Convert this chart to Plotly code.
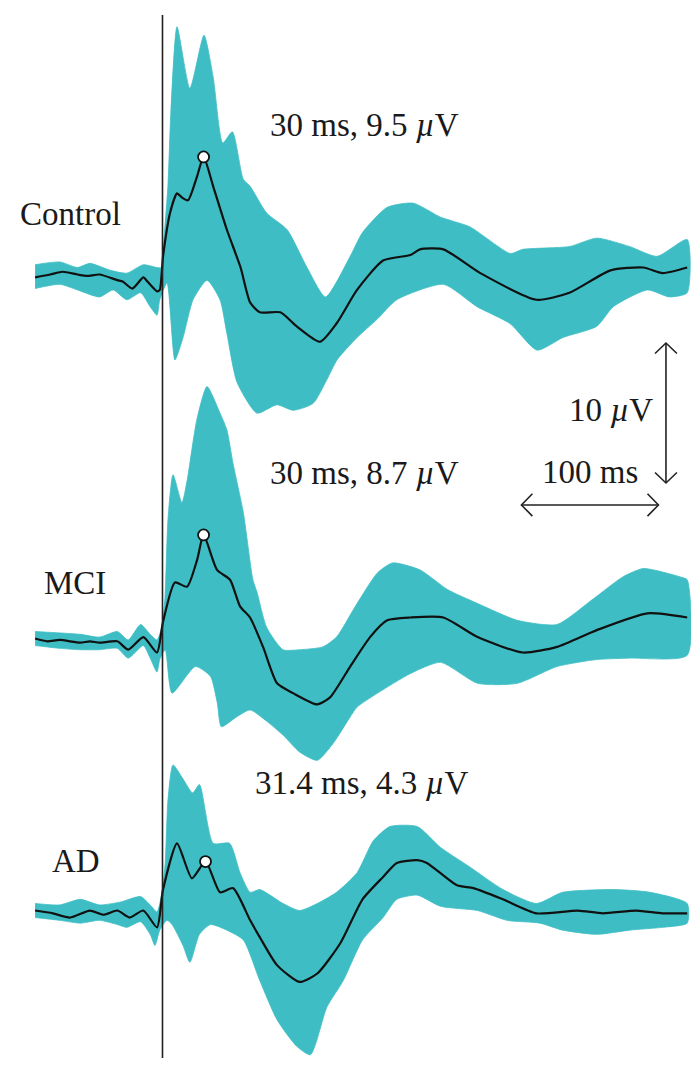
import numpy as np
import plotly.graph_objects as go

# ---------------- data (time in ms, amplitude in µV) ----------------
groups = ["Control", "MCI", "AD"]

ctrl_t = [-93, -82, -73, -62, -55, -46, -33, -29, -22, -14, -11, -4, -2, 0.4, 5.5, 10.6, 14.2, 18.6, 25.2, 30,
          37, 47, 57, 64, 71, 86, 98, 115, 127, 142, 161, 181, 188, 205, 232, 273, 297, 327, 351, 365, 383]
ctrl_mean = [-0.1, 0.1, 0.3, 0.1, 0, 0.1, -0.3, -0.4, -0.9, -0.1, -0.4, -1.1, -1.0, 1.4, 4.5, 5.9, 5.6, 5.4, 7.1, 8.5,
             6.4, 3.3, 0.6, -1.9, -2.6, -2.6, -3.6, -4.7, -3.4, -1.0, 1.1, 1.5, 1.9, 1.9, 0.2, -1.7, -1.2, 0.4, 0.6, 0.2, 0.6]
ctrl_up_t = [-93, -75, -62, -53, -38, -26, -14, -4, -0.4, 1, 4, 6.2, 10.6, 20, 30.3, 37, 44, 51, 59, 64,
             76, 91, 105.5, 119, 137, 146, 164, 183, 203, 224.5, 254, 263, 297, 317, 341, 361, 383]
ctrl_up = [0.8, 1.0, 0.6, 0.9, 0.4, 0.2, 0.8, 0.6, 0.6, 2.5, 6.5, 11.9, 17.8, 13.4, 17.2, 14.2, 9.5, 10.3, 6.9, 6.4,
           4.5, 3.3, 0.6, -1.5, 1.4, 3.1, 4.9, 5.2, 4.2, 3.5, 1.6, 1.9, 2.1, 2.7, 2.1, 1.4, 2.6]
ctrl_lo_t = [-93, -75, -62, -46, -36, -26, -16, -9, -4, -2, 3.3, 9.1, 15, 22.3, 32.5, 42, 47, 54.4, 69, 83.6,
             95.3, 110, 120, 127.4, 142, 156.6, 171, 205, 229.6, 253.6, 273.4, 292.3, 317, 329, 354, 370, 383]
ctrl_lo = [-0.9, -0.6, -1.0, -1.5, -1.0, -1.7, -1.2, -2.2, -2.8, -1.7, -0.5, -6.0, -4.4, -1.7, -0.3, -1.7, -4.1, -7.6, -9.8, -9.2,
           -9.6, -9.1, -7.4, -6.0, -4.4, -3.1, -1.7, -0.6, -2.2, -3.4, -5.3, -4.4, -3.6, -2.2, -1.0, -1.5, -1.2]

mci_t = [-93, -84, -75, -60, -53, -46, -33, -25, -14, -4, 0.4, 9.1, 17.9, 25.2, 30, 39.8, 49.3, 56.6, 63.9, 73.4,
         83.6, 95.3, 112.8, 122.3, 137, 151.5, 164, 181, 205, 230, 263, 288, 317, 354, 383]
mci_mean = [0.1, -0.1, 0, -0.2, -0.1, -0.2, -0.1, -0.7, 0.2, -0.9, 1.3, 4.1, 3.8, 5.7, 7.5, 5.0, 4.3, 2.4, 1.6, -0.5,
            -3.1, -3.8, -4.6, -4.1, -1.9, 0.2, 1.4, 1.6, 1.6, 0.2, -0.9, -0.5, 0.7, 1.9, 1.6]
mci_up_t = [-93, -75, -60, -46, -33, -25, -16, -9, -4, -0.4, 1.8, 4, 7.7, 14.2, 18, 25, 32.5, 42, 47, 51.5,
            59, 66, 69, 76, 88, 100, 117, 127, 142, 157, 168, 188, 208, 230, 259, 288, 314, 336, 351, 378, 383]
mci_up = [0.6, 0.5, 0.4, 0.2, 0.6, 0, 1.1, 0.4, 0, 1.0, 3.0, 8.6, 11.8, 9.8, 11.4, 15.7, 18.1, 16.2, 15.0, 12.6,
          9.1, 4.3, 3.4, 0.9, -0.7, -0.7, -0.5, 0.2, 2.6, 4.8, 5.5, 5.0, 3.6, 2.6, 1.4, 1.1, 2.9, 4.5, 5.1, 4.5, 4.3]
mci_lo_t = [-93, -75, -60, -46, -33, -25, -14, -9, -4, -2, 2, 7, 24, 35, 40, 43, 54, 64, 76, 88,
            100, 113, 124.5, 137, 142, 157, 181, 203, 230, 259, 288, 317, 341, 383]
mci_lo = [-0.4, -0.6, -0.7, -0.7, -0.6, -1.3, -0.4, -1.3, -2.3, -1.4, -0.7, -3.8, -1.9, -2.6, -4.5, -6.2, -5.5, -5.0, -5.8, -6.8,
          -8.0, -8.6, -7.4, -5.5, -4.8, -3.8, -2.4, -1.6, -3.1, -3.1, -1.9, -1.4, -1.3, -1.1]

ad_t = [-93, -80, -67.5, -53, -43, -33, -24, -14, -4, 0.4, 10.6, 21.5, 31.4, 42, 51.5, 64, 71, 83.6, 100, 113,
        130, 146, 161, 171, 186, 193, 215, 227, 248.5, 273, 303, 321.5, 346, 365, 383]
ad_mean = [0.1, -0.1, -0.4, 0.1, -0.2, 0.1, -0.4, 0.1, -1.1, 1.6, 4.9, 2.4, 3.6, 1.4, 1.7, -0.6, -1.8, -3.8, -5.0, -4.4,
           -2.2, 0.9, 2.5, 3.5, 3.7, 3.5, 1.9, 1.7, 0.9, -0.1, 0.1, -0.1, 0.1, -0.1, -0.1]
ad_up_t = [-93, -75, -60, -46, -31, -16, -9, -4, -0.4, 2, 4, 7.7, 15, 22, 27, 37, 49, 56.6, 64, 71,
           88, 100, 113, 127, 142, 154, 166, 186, 203, 224.5, 248.5, 273, 292, 329, 356, 383]
ad_up = [0.6, 0.5, 0.9, 0.5, 0.7, 1.1, 0.5, 0, 1.4, 3.5, 8.0, 10.5, 9.5, 8.5, 9.1, 4.9, 4.9, 2.8, 1.4, 1.6,
         0.6, 0.1, 0.6, 1.4, 2.8, 5.1, 6.1, 6.1, 4.6, 3.2, 1.6, 0.6, 1.4, 1.6, 1.4, 0.6]
ad_lo_t = [-93, -75, -60, -46, -33, -26, -16, -9, -5.5, -2, 3.3, 7, 15, 20, 27, 35, 47, 59, 71, 83.6,
           98, 108, 120, 132, 146, 161, 171, 186, 203, 230, 251.5, 275.5, 292, 317, 341, 365, 383]
ad_lo = [-0.4, -0.6, -0.8, -0.6, -0.9, -1.1, -0.7, -1.6, -2.4, -1.3, -0.6, -0.9, -2.4, -3.6, -1.6, -0.9, -1.3, -2.0, -4.9, -7.7,
         -9.6, -10.2, -6.8, -4.9, -2.0, -0.4, 0.9, 1.2, 0.4, 0.1, -0.6, -0.8, -1.3, -1.6, -1.3, -1.1, -0.8]

peak_latency_ms = [30, 30, 31.4]
peak_labels = ["30 ms, 9.5 <i>µ</i>V", "30 ms, 8.7 <i>µ</i>V", "31.4 ms, 4.3 <i>µ</i>V"]
scale_ms = 100
scale_uv = 10

# ---------------- layout constants ----------------
# the page body has an 8 px default margin, so the figure is sized to fit inside it
W, H = 683, 1061
offsets = [-19.71, -45.71, -65.14]          # vertical stacking of the three traces
x_range = [-112.77, 385.77]
y_range = [-76.36, -0.571]
band_color = "rgb(62,190,196)"
line_color = "#111111"
font_family = "Liberation Serif, Times New Roman, serif"
font_size = 33

series = [
    (ctrl_t, ctrl_mean, ctrl_up_t, ctrl_up, ctrl_lo_t, ctrl_lo),
    (mci_t, mci_mean, mci_up_t, mci_up, mci_lo_t, mci_lo),
    (ad_t, ad_mean, ad_up_t, ad_up, ad_lo_t, ad_lo),
]

fig = go.Figure()
for i, (t, m, ut, u, lt, l) in enumerate(series):
    off = offsets[i]
    px_ = list(ut) + list(lt[::-1])
    py_ = [v + off for v in u] + [v + off for v in l[::-1]]
    fig.add_trace(go.Scatter(x=px_, y=py_, fill="toself", fillcolor=band_color,
                             line=dict(width=0.8, color=band_color, shape="spline", smoothing=0.6),
                             mode="lines", hoverinfo="skip", showlegend=False))
for i, (t, m, ut, u, lt, l) in enumerate(series):
    off = offsets[i]
    fig.add_trace(go.Scatter(x=t, y=[v + off for v in m], mode="lines",
                             line=dict(color=line_color, width=2.2, shape="spline", smoothing=0.6),
                             showlegend=False, name=groups[i]))
    pk = float(np.interp(peak_latency_ms[i], t, m)) + off
    fig.add_trace(go.Scatter(x=[peak_latency_ms[i]], y=[pk], mode="markers",
                             marker=dict(size=11, color="white", line=dict(color=line_color, width=1.8)),
                             showlegend=False))

# stimulus onset line
fig.add_shape(type="line", x0=0, x1=0, y0=-1.07, y1=-75.57, xref="x", yref="y",
              line=dict(color="#222222", width=1.6))

# scale bars
vx, vy_top = 367.5, -24.5
hy, hx0 = -36.07, 262.0
ch_w, ch_h = 8.0, 0.75   # chevron half-width (ms) and height (µV)
bar_line = dict(color="#222222", width=1.6)
fig.add_shape(type="line", x0=vx, x1=vx, y0=vy_top, y1=vy_top - scale_uv, line=bar_line)
fig.add_shape(type="path", path=f"M {vx-ch_w} {vy_top-ch_h} L {vx} {vy_top} L {vx+ch_w} {vy_top-ch_h}", line=bar_line)
yb = vy_top - scale_uv
fig.add_shape(type="path", path=f"M {vx-ch_w} {yb+ch_h} L {vx} {yb} L {vx+ch_w} {yb+ch_h}", line=bar_line)
hx1 = hx0 + scale_ms
hw, hh = 8.0, 0.8
fig.add_shape(type="line", x0=hx0, x1=hx1, y0=hy, y1=hy, line=bar_line)
fig.add_shape(type="path", path=f"M {hx0+hw} {hy+hh} L {hx0} {hy} L {hx0+hw} {hy-hh}", line=bar_line)
fig.add_shape(type="path", path=f"M {hx1-hw} {hy+hh} L {hx1} {hy} L {hx1-hw} {hy-hh}", line=bar_line)

fnt = dict(family=font_family, size=font_size, color="#1a1a1a")
ann = []
label_pos = [(-105.5, -15.29), (-88.0, -41.64), (-82.1, -61.5)]
for g, (x, y) in zip(groups, label_pos):
    ann.append(dict(x=x, y=y, text=g, xanchor="left", yanchor="middle", showarrow=False, font=fnt))
pk_pos = [(77, -8.9), (77, -33.8), (66, -55.9)]
for s, (x, y) in zip(peak_labels, pk_pos):
    ann.append(dict(x=x, y=y, text=s, xanchor="left", yanchor="middle", showarrow=False, font=fnt))
ann.append(dict(x=359.5, y=-29.3, text=f"{scale_uv} <i>µ</i>V", xanchor="right", yanchor="middle", showarrow=False, font=fnt))
ann.append(dict(x=312, y=-33.7, text=f"{scale_ms} ms", xanchor="center", yanchor="middle", showarrow=False, font=fnt))

fig.update_layout(
    width=W, height=H, autosize=False,
    margin=dict(l=0, r=0, t=0, b=0),
    paper_bgcolor="white", plot_bgcolor="white",
    xaxis=dict(range=x_range, visible=False, fixedrange=True),
    yaxis=dict(range=y_range, visible=False, fixedrange=True),
    annotations=ann, showlegend=False,
)
fig.write_html("out.html")
